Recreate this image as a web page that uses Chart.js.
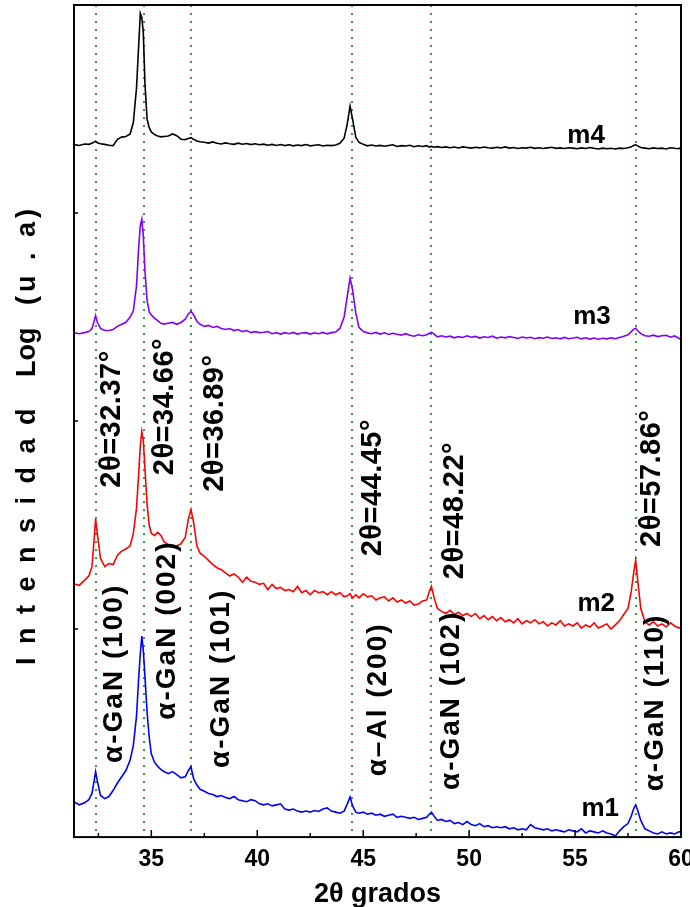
<!DOCTYPE html>
<html>
<head>
<meta charset="utf-8">
<script src="https://cdn.jsdelivr.net/npm/chart.js@4.4.1/dist/chart.umd.min.js"></script>
<style>
    html, body { margin: 0; padding: 0; background: #fff; }
    #chart { display: block; }
</style>
</head>
<body>
<canvas id="chart" width="690" height="907"></canvas>
<script>

// =========================
// DATA
// =========================

const twoTheta = [
    31.35, 31.6, 31.85, 32.05, 32.2, 32.3, 32.37, 32.45, 32.6, 32.8,
    33.0, 33.2, 33.4, 33.6, 33.8, 34.0, 34.15, 34.3, 34.4, 34.48,
    34.55, 34.62, 34.7, 34.8, 34.9, 35.0, 35.15, 35.3, 35.45, 35.6,
    35.8, 36.0, 36.2, 36.4, 36.6, 36.75, 36.87, 37.0, 37.15, 37.3,
    37.5, 37.7, 37.9, 38.1, 38.3, 38.5, 38.7, 38.9, 39.1, 39.3,
    39.5, 39.7, 39.9, 40.1, 40.3, 40.5, 40.7, 40.9, 41.1, 41.3,
    41.5, 41.7, 41.9, 42.1, 42.3, 42.5, 42.7, 42.9, 43.1, 43.3,
    43.5, 43.7, 43.9, 44.1, 44.25, 44.38, 44.5, 44.65, 44.8, 45.0,
    45.2, 45.4, 45.6, 45.8, 46.0, 46.2, 46.4, 46.6, 46.8, 47.0,
    47.2, 47.4, 47.6, 47.8, 48.0, 48.12, 48.22, 48.35, 48.5, 48.7,
    48.9, 49.1, 49.3, 49.5, 49.7, 49.9, 50.1, 50.3, 50.5, 50.7,
    50.9, 51.1, 51.3, 51.5, 51.7, 51.9, 52.1, 52.3, 52.5, 52.7,
    52.9, 53.1, 53.3, 53.5, 53.7, 53.9, 54.1, 54.3, 54.5, 54.7,
    54.9, 55.1, 55.3, 55.5, 55.7, 55.9, 56.1, 56.3, 56.5, 56.7,
    56.9, 57.1, 57.3, 57.5, 57.65, 57.78, 57.86, 57.95, 58.1, 58.3,
    58.5, 58.7, 58.9, 59.1, 59.3, 59.5, 59.7, 59.9, 60.0
];

const m1 = [
    17, 15.5, 16.5, 18, 21, 27, 31.4, 27, 20, 18.5,
    19.5, 22.5, 26, 29, 32, 37, 44, 58, 76, 88,
    96.6, 90, 77, 60, 48, 40, 36, 34, 32.5, 31.5,
    30.5, 31.5, 30, 28.5, 29, 32, 33.8, 28, 25, 23,
    22, 21, 20.5, 19.5, 20, 19, 18.5, 19.5, 18, 17.5,
    17, 18, 17.5, 16, 15.5, 16, 15, 15.5, 16, 13.5,
    13, 13.5, 12.5, 12, 12.5, 12, 12.8, 12.3, 13.5, 14,
    12.5, 12, 11.5, 12.5, 16, 19.3, 15, 12, 11.5, 12,
    11, 11.5, 10.5, 11, 10, 10.5, 11, 9.5, 10, 9.5,
    9, 9.5, 8.5, 9, 9.5, 11, 12, 10, 8, 8.5,
    7.5, 8, 6.5, 7, 6, 7.5, 6, 5.5, 6.5, 5,
    5.5, 4.5, 5, 4.5, 5, 4, 4.5, 3.5, 4, 3.5,
    6, 4.5, 4, 3.5, 4, 3, 3.5, 3, 2.5, 3.5,
    3, 2.5, 4, 2, 3, 2.5, 2, 3, 2, 1.5,
    0.5, 3, 5, 6.5, 10, 14, 15.5, 13, 8, 4,
    3, 2, 1.5, 2.5, 1.5, 2, 1.5, 2.5, 2.5
];

const m2 = [
    121.7, 121, 123.5, 125.5, 130, 143, 153, 146, 134, 130,
    131.5, 131, 135.5, 137.5, 138.5, 140, 146, 158, 174, 188,
    195, 191, 177, 160, 150, 146, 145, 146.5, 145, 142,
    140.5, 139.5, 140, 141, 144, 153, 157.5, 151, 140, 136.5,
    135, 133, 131, 129.5, 128.5, 127, 125.5, 126.5, 125, 122.5,
    125, 123, 122.5, 121.5, 122, 119, 121.5, 119.5, 120, 118.5,
    119, 118, 120.5, 117.5, 118.5, 116.5, 118.5, 117.5, 118, 116.5,
    118, 116.5, 117.5, 115.5, 116, 117, 115, 116.5, 115, 117,
    115.5, 116, 114, 115, 115.5, 113.5, 115, 113, 114, 112.5,
    113.5, 111.5, 112, 113.5, 114, 118, 120.5, 115, 110, 108.5,
    107.5, 109, 107, 108, 106.5, 107.5, 106, 107.5, 105, 106.5,
    104.5, 106, 104, 105.5, 103.5, 104.5, 103, 105, 102.5, 104,
    103, 104.5, 102.5, 103.5, 101.5, 103, 102, 104, 101.5, 102.5,
    101.5, 103, 100.5, 102, 101, 103, 100.5, 101.5, 102.5, 100,
    102, 104, 107, 110, 118, 128, 133, 124, 110, 103.5,
    102, 103.5, 101.5, 102.5, 101, 103, 101.5, 100.5, 101
];

const m3 = [
    242.4, 242, 242.5, 243, 244.5, 248, 250.7, 247.5, 244.5, 243.5,
    243.5, 244, 245.5, 246.5, 247.5, 250, 253, 265, 283, 294,
    297, 289, 272, 258, 252.5, 251, 249.5, 248.3, 247, 246.6,
    247, 247.4, 246.5, 247.4, 249, 251.5, 252.8, 251, 248, 246.5,
    245.5, 246, 245, 245.5, 244.5, 244, 244.5, 243.5, 244, 243,
    243.5, 242.5, 243, 242.5, 242.7, 243, 242, 242.5, 241.8, 242.5,
    242, 242.6, 241.8, 242.3, 242.5, 241.8, 242.4, 242, 242.6, 241.9,
    242.5, 242.8, 244.5, 250, 260, 268.7, 263, 252, 245, 243,
    242.4, 242, 242.6, 241.8, 242.4, 241.6, 242.2, 241.7, 241.3, 242,
    241.2, 240.8, 241.5, 241, 241.5, 242.2, 242.6, 241.8, 240.5, 241,
    240.4, 240.8, 240, 240.6, 240.2, 241, 240.3, 240.7, 239.9, 240.5,
    240.2, 240.8, 239.8, 240.4, 240, 240.6, 240.2, 239.7, 240.4, 239.9,
    240.3, 239.6, 240.1, 239.8, 240.4, 239.7, 240, 239.5, 240.2, 239.6,
    239.9, 240.3, 239.5, 240, 239.4, 239.9, 239.3, 239.8, 239.5, 240,
    239.6, 240.2, 240.8, 241.5, 243, 244.2, 244.6, 243.5, 242, 241,
    240.8, 241.3, 240.6, 241, 241.2, 240.3, 240.9, 239.8, 239.2
];

const m4 = [
    332.9, 332.5, 333.2, 333, 333.5, 334.2, 334.5, 333.8, 333.3, 333,
    332.6, 332.4, 335.4, 336.5, 336.8, 338, 343.5, 360, 380, 396,
    394, 387, 362, 345, 341, 339, 337.7, 337, 336.6, 336.8,
    337, 338, 337.2, 335.5, 335.3, 335.8, 336.2, 335.4, 334.6, 334.3,
    334, 333.6, 334.2, 333.5, 333.2, 333.7, 333.3, 333, 333.6, 333.1,
    333.4, 332.9, 333.3, 332.8, 333.1, 332.6, 333, 332.5, 332.9, 332.4,
    332.8, 332.3, 332.7, 332.4, 332.9, 332.3, 332.6, 332.8, 332.2, 332.6,
    332.4, 332.7, 333.5, 336, 343, 351.4, 345, 336.5, 334, 333,
    332.3, 332.7, 332.2, 332.5, 332.1, 332.5, 332.8, 332, 332.4, 332.2,
    332.6, 331.9, 332.3, 332, 332.4, 331.7, 332, 331.6, 331.9, 331.5,
    331.8, 331.4, 331.7, 331.3, 331.8, 331.5, 331.2, 331.6, 331.3, 331.7,
    331.4, 331.2, 331.6, 331.3, 331.8, 331.2, 331.5, 331, 331.4, 331.2,
    331.6, 331.1, 331.4, 331, 331.3, 331.6, 331.1, 331.3, 331, 331.4,
    331.2, 330.9, 331.3, 331, 331.5, 331.1, 330.8, 331.2, 330.9, 331.1,
    330.8, 331.2, 331, 331.4, 331.8, 332.6, 332.8, 332.3, 331.5, 331.2,
    330.9, 331.3, 331, 331.2, 330.8, 331.4, 331.1, 330.9, 331.5
];

const peakLines = [32.37, 34.66, 36.89, 44.45, 48.22, 57.86];
const xMajorTicks = [35, 40, 45, 50, 55, 60];
const xMinorTicks = [32.5, 37.5, 42.5, 47.5, 52.5, 57.5];
const yTicks = [100, 200, 300];

const angleNotes = [
    { text: "2θ=32.37°", x: 33.13, y: 201 },
    { text: "2θ=34.66°", x: 35.64, y: 207 },
    { text: "2θ=36.89°", x: 38.0, y: 199 },
    { text: "2θ=44.45°", x: 45.46, y: 168 },
    { text: "2θ=48.22°", x: 49.34, y: 157 },
    { text: "2θ=57.86°", x: 58.64, y: 172.5 }
];

const phaseNotes = [
    { text: "α-GaN (100)", x: 33.23, y: 78.7 },
    { text: "α-GaN (002)", x: 35.73, y: 99.5 },
    { text: "α-GaN (101)", x: 38.28, y: 76.3 },
    { text: "α–Al (200)", x: 45.7, y: 66.2 },
    { text: "α-GaN (102)", x: 49.15, y: 65.7 },
    { text: "α-GaN (110)", x: 58.8, y: 64.7 }
];

const sampleNotes = [
    { text: "m4", x: 55.52, y: 337 },
    { text: "m3", x: 55.8, y: 250 },
    { text: "m2", x: 56.0, y: 112 },
    { text: "m1", x: 56.19, y: 13.5 }
];

// =========================
// HELPERS
// =========================

const FAMILY = "'Liberation Sans', Arial, sans-serif";

function series(values) {
    return twoTheta.map((t, i) => ({ x: t, y: values[i] }));
}

function rotatedText(ctx, text, px, py, font, spacing) {
    ctx.save();
    ctx.translate(px, py);
    ctx.rotate(-Math.PI / 2);
    ctx.font = font;
    ctx.letterSpacing = spacing + "px";
    ctx.fillStyle = "#000";
    ctx.textAlign = "center";
    ctx.textBaseline = "middle";
    ctx.fillText(text, 0, 0);
    ctx.restore();
}

// =========================
// DECORATION PLUGIN
// =========================

const decor = {
    id: "decor",

    beforeDatasetsDraw(chart) {
        const { ctx, chartArea: a, scales: { x } } = chart;
        ctx.save();
        ctx.strokeStyle = "#35a035";
        ctx.lineWidth = 2;
        ctx.setLineDash([2, 6]);
        peakLines.forEach(p => {
            const px = Math.round(x.getPixelForValue(p));
            ctx.beginPath();
            ctx.moveTo(px, a.top);
            ctx.lineTo(px, a.bottom);
            ctx.stroke();
        });
        ctx.restore();
    },

    afterDatasetsDraw(chart) {
        const { ctx, chartArea: a, scales: { x, y } } = chart;

        // frame and ticks
        ctx.save();
        ctx.strokeStyle = "#000";
        ctx.lineWidth = 2;
        ctx.strokeRect(a.left, a.top, a.right - a.left, a.bottom - a.top);

        ctx.lineWidth = 1.5;
        ctx.beginPath();
        xMajorTicks.forEach(t => {
            const px = x.getPixelForValue(t);
            ctx.moveTo(px, a.bottom);
            ctx.lineTo(px, a.bottom - 7);
        });
        xMinorTicks.forEach(t => {
            const px = x.getPixelForValue(t);
            ctx.moveTo(px, a.bottom);
            ctx.lineTo(px, a.bottom - 4);
        });
        yTicks.forEach(t => {
            const py = y.getPixelForValue(t);
            ctx.moveTo(a.left, py);
            ctx.lineTo(a.left + 4, py);
        });
        ctx.stroke();
        ctx.restore();

        // peak annotations
        angleNotes.forEach(n => {
            rotatedText(ctx, n.text, x.getPixelForValue(n.x), y.getPixelForValue(n.y),
                "bold 29px " + FAMILY, 0.5);
        });

        phaseNotes.forEach(n => {
            rotatedText(ctx, n.text, x.getPixelForValue(n.x), y.getPixelForValue(n.y),
                "bold 28px " + FAMILY, 2);
        });

        // sample names
        ctx.save();
        ctx.fillStyle = "#000";
        ctx.font = "bold 26px " + FAMILY;
        ctx.textAlign = "center";
        ctx.textBaseline = "middle";
        sampleNotes.forEach(n => {
            ctx.fillText(n.text, x.getPixelForValue(n.x), y.getPixelForValue(n.y));
        });
        ctx.restore();

        // y title, spaced out like the original
        ctx.save();
        ctx.translate(a.left - 39, 665);
        ctx.rotate(-Math.PI / 2);
        ctx.fillStyle = "#000";
        ctx.font = "bold 27px " + FAMILY;
        ctx.textAlign = "left";
        ctx.textBaseline = "alphabetic";
        ctx.letterSpacing = "13.5px";
        ctx.fillText("Intensidad", 0, 0);
        ctx.letterSpacing = "0px";
        ctx.fillText("Log", 288, 0);
        ctx.letterSpacing = "4px";
        ctx.fillText("(u . a)", 360, 0);
        ctx.restore();
    }
};

// =========================
// CHART
// =========================

Chart.defaults.font.family = FAMILY;

new Chart(document.getElementById("chart").getContext("2d"), {
    type: "line",
    data: {
        datasets: [
            { label: "m1", data: series(m1), borderColor: "#0000ff" },
            { label: "m2", data: series(m2), borderColor: "#ff0000" },
            { label: "m3", data: series(m3), borderColor: "#8000ff" },
            { label: "m4", data: series(m4), borderColor: "#000000" }
        ]
    },
    options: {
        responsive: false,
        animation: false,
        devicePixelRatio: 1,
        layout: {
            padding: { left: 74, right: 9, top: 5, bottom: 0 }
        },
        elements: {
            point: { radius: 0 },
            line: { borderWidth: 1.6, tension: 0, fill: false }
        },
        plugins: {
            legend: { display: false },
            tooltip: { enabled: false }
        },
        scales: {
            x: {
                type: "linear",
                min: 31.35,
                max: 60,
                afterFit(scale) {
                    scale.paddingLeft = 0;
                    scale.paddingRight = 0;
                },
                grid: { display: false, drawTicks: false },
                border: { display: false },
                ticks: {
                    stepSize: 5,
                    includeBounds: false,
                    padding: 9,
                    maxRotation: 0,
                    color: "#000",
                    font: { size: 23, weight: "bold" }
                },
                title: {
                    display: true,
                    text: "2θ grados",
                    color: "#000",
                    font: { size: 27, weight: "bold", lineHeight: 0.9 },
                    padding: { top: 0, bottom: 0 }
                }
            },
            y: {
                display: false,
                min: 0,
                max: 400
            }
        }
    },
    plugins: [decor]
});

</script>
</body>
</html>
